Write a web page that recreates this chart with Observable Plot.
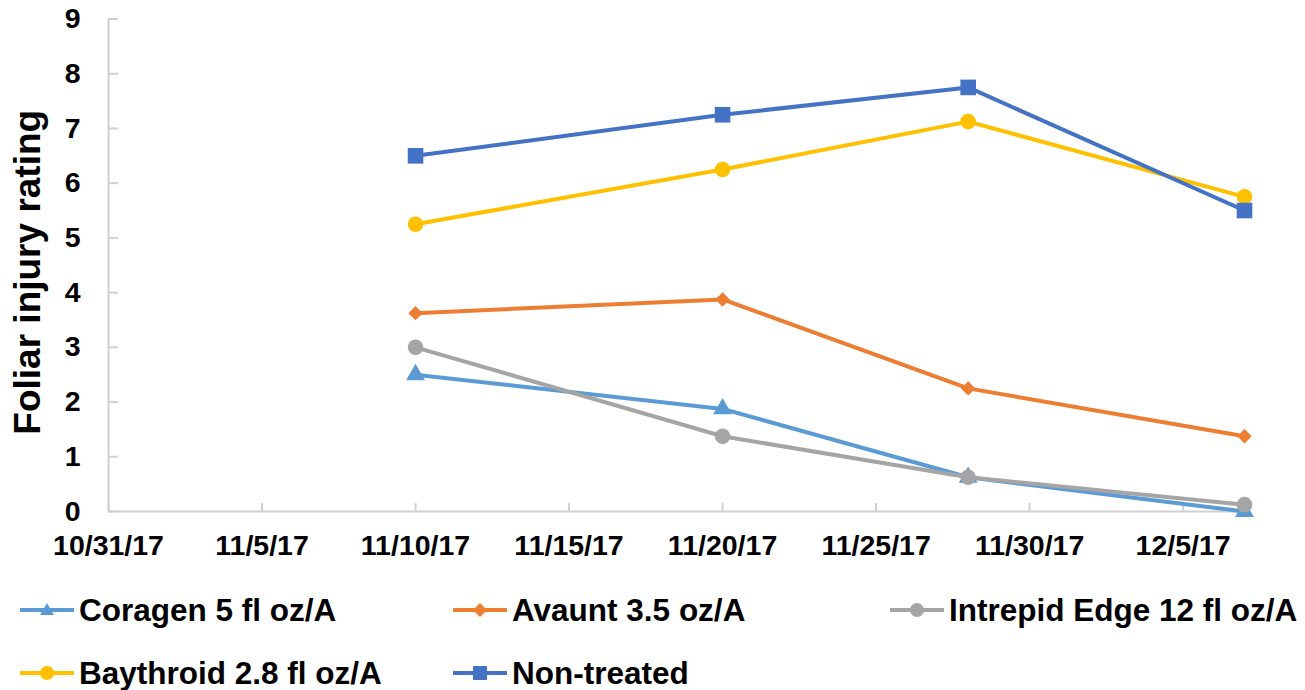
<!DOCTYPE html>
<html>
<head>
<meta charset="utf-8">
<script src="https://cdn.jsdelivr.net/npm/d3@7"></script>
<script src="https://cdn.jsdelivr.net/npm/@observablehq/plot@0.6"></script>
<style>
  html, body { margin: 0; padding: 0; background: #fff; }
  body { width: 1305px; height: 690px; overflow: hidden; font-family: "Liberation Sans", Arial, sans-serif; font-weight: bold; color: #000; }
  #legend { position: relative; width: 1305px; height: 115px; }
  .item { position: absolute; display: flex; align-items: center; height: 40px; font-size: 31.5px; white-space: nowrap; }
  .item svg { margin-right: 5px; }
</style>
</head>
<body>
<div id="chart"></div>
<div id="legend"></div>
<script>
// ---- data ----
const dates = ["2017-11-10", "2017-11-20", "2017-11-28", "2017-12-07"];
const seriesNames = ["Coragen 5 fl oz/A", "Avaunt 3.5 oz/A", "Intrepid Edge 12 fl oz/A", "Baythroid 2.8 fl oz/A", "Non-treated"];
const coragen   = [2.5, 1.875, 0.625, 0.0];
const avaunt    = [3.625, 3.875, 2.25, 1.375];
const intrepid  = [3.0, 1.375, 0.625, 0.125];
const baythroid = [5.25, 6.25, 7.125, 5.75];
const nontreated = [6.5, 7.25, 7.75, 5.5];
const xTickDates = ["2017-10-31", "2017-11-05", "2017-11-10", "2017-11-15", "2017-11-20", "2017-11-25", "2017-11-30", "2017-12-05"];
const yTicks = [0, 1, 2, 3, 4, 5, 6, 7, 8, 9];
const xDomain = ["2017-10-31", "2017-12-07"];
const yTitle = "Foliar injury rating";

const colors = ["#5B9BD5", "#ED7D31", "#A5A5A5", "#FFC000", "#4472C4"];
const symbols = ["triangle", "diamond2", "circle", "circle", "square"];
const radii = [7, 6.5, 7.8, 7.8, 8.8];

const valueSets = [coragen, avaunt, intrepid, baythroid, nontreated];
const parse = s => new Date(s + "T00:00:00Z");
const rows = [];
seriesNames.forEach((name, i) => {
  valueSets[i].forEach((v, j) => rows.push({series: name, date: parse(dates[j]), value: v, idx: i}));
});
const fmt = d => `${d.getUTCMonth() + 1}/${d.getUTCDate()}/${String(d.getUTCFullYear()).slice(2)}`;
const xTicks = xTickDates.map(parse);

const axisColor = "#d0d0d0";
const W = 1305, H = 575;

const marks = [
  Plot.ruleY([0], {stroke: axisColor, strokeWidth: 2}),
  Plot.ruleX([parse(xDomain[0])], {stroke: axisColor, strokeWidth: 2}),
  // y tick labels
  Plot.axisY({ticks: yTicks, tickSize: 0, tickPadding: 28, fontSize: 28.5, fontWeight: "bold", label: null, tickFormat: d => String(d)}),
  // inward y ticks
  Plot.axisY({ticks: yTicks, tickSize: 10, dx: 10, text: null, stroke: axisColor, strokeWidth: 2, label: null}),
  // x tick labels
  Plot.axisX({ticks: xTicks, tickSize: 0, tickPadding: 23, fontSize: 28.5, fontWeight: "bold", label: null, tickFormat: fmt}),
  // inward x ticks
  Plot.axisX({ticks: xTicks, tickSize: 8, dy: -8, text: null, stroke: axisColor, strokeWidth: 2, label: null}),
  Plot.text([yTitle], {frameAnchor: "left", textAnchor: "middle", lineAnchor: "middle", rotate: -90, dx: -80, dy: 7, fontSize: 37, fontWeight: "bold", fill: "#000"})
];

seriesNames.forEach((name, i) => {
  const data = rows.filter(r => r.idx === i);
  marks.push(Plot.line(data, {x: "date", y: "value", stroke: colors[i], strokeWidth: 4}));
  marks.push(Plot.dot(data, {x: "date", y: "value", fill: colors[i], stroke: "none", symbol: () => symbols[i], r: radii[i]}));
});

const chart = Plot.plot({
  width: W,
  height: H,
  marginLeft: 108,
  marginRight: 61,
  marginTop: 18.5,
  marginBottom: H - 511,
  style: {fontFamily: "'Liberation Sans', Arial, sans-serif", fontWeight: "bold", color: "#000", background: "#fff", overflow: "visible"},
  x: {type: "utc", domain: xDomain.map(parse)},
  y: {domain: [0, 9]},
  symbol: {type: "identity"},
  marks
});
document.getElementById("chart").appendChild(chart);

// ---- legend ----
const legendPos = [[20, 15], [453, 15], [890, 15], [20, 78], [453, 78]];
const legend = document.getElementById("legend");
function markerPath(sym, cx, cy) {
  if (sym === "triangle") return `<path d="M${cx},${cy-7} L${cx+7},${cy+5} L${cx-7},${cy+5} Z"/>`;
  if (sym === "diamond2") return `<path d="M${cx},${cy-7} L${cx+7},${cy} L${cx},${cy+7} L${cx-7},${cy} Z"/>`;
  if (sym === "square") return `<rect x="${cx-7}" y="${cy-7}" width="14" height="14"/>`;
  return `<circle cx="${cx}" cy="${cy}" r="7"/>`;
}
seriesNames.forEach((name, i) => {
  const div = document.createElement("div");
  div.className = "item";
  div.style.left = legendPos[i][0] + "px";
  div.style.top = legendPos[i][1] + "px";
  div.innerHTML = `<svg width="54" height="20" viewBox="0 0 54 20"><line x1="0" y1="10" x2="54" y2="10" stroke="${colors[i]}" stroke-width="4"/><g fill="${colors[i]}">${markerPath(symbols[i], 27, 10)}</g></svg><span>${name}</span>`;
  legend.appendChild(div);
});
</script>
</body>
</html>
